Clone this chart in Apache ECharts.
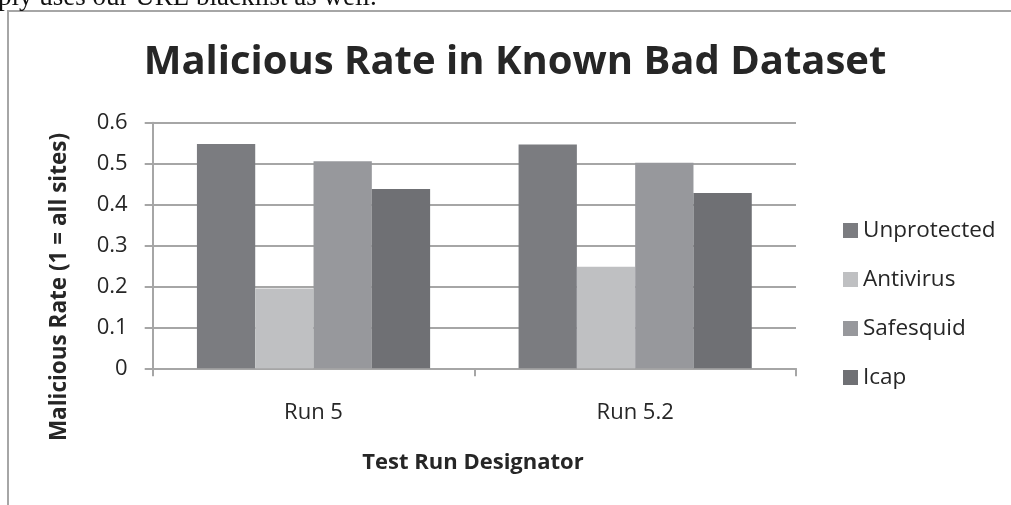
<!DOCTYPE html>
<html>
<head>
<meta charset="utf-8">
<script src="https://cdn.jsdelivr.net/npm/echarts@6/dist/echarts.min.js"></script>
<style>
html,body{margin:0;padding:0;background:#fff;}
#c{width:1011px;height:505px;}
</style>
</head>
<body>
<div id="c"></div>
<script>
const categories = ['Run 5', 'Run 5.2'];
const unprotected = [0.548, 0.547];
const antivirus = [0.195, 0.248];
const safesquid = [0.506, 0.502];
const icap = [0.438, 0.428];
const yTicks = [0, 0.1, 0.2, 0.3, 0.4, 0.5, 0.6];

const FONT = '"Open Sans", "Noto Sans", sans-serif';
const chart = echarts.init(document.getElementById('c'), null, {renderer: 'canvas'});
const gridColor = '#a6a6a6';

const mk = (name, data, color) => ({
  name, type: 'bar', data, barGap: '0%', barCategoryGap: '27.5%',
  itemStyle: {color}, emphasis: {disabled: true}, animation: false
});

chart.setOption({
  animation: false,
  backgroundColor: '#fff',
  grid: {left: 152.7, right: 215, top: 122.7, bottom: 136.7, containLabel: false},
  xAxis: {
    type: 'category', data: categories,
    axisLine: {lineStyle: {color: gridColor, width: 2}},
    axisTick: {show: true, length: 8, lineStyle: {color: gridColor, width: 2}},
    axisLabel: {color: '#262626', fontFamily: FONT, fontSize: 22, margin: 33}
  },
  yAxis: {
    type: 'value', min: 0, max: 0.6, interval: 0.1,
    axisLine: {show: true, lineStyle: {color: gridColor, width: 2}},
    axisTick: {show: true, length: 8, lineStyle: {color: gridColor, width: 2}},
    splitLine: {lineStyle: {color: gridColor, width: 2}},
    axisLabel: {color: '#262626', fontFamily: FONT, fontSize: 22, margin: 25,
      formatter: v => { const t = yTicks.find(x => Math.abs(x - v) < 1e-9); return t === 0 ? '0' : String(+t.toFixed(1)); }}
  },
  legend: {
    orient: 'vertical', left: 838, top: 214,
    itemWidth: 15, itemHeight: 15, itemGap: 26,
    icon: 'rect',
    textStyle: {color: '#262626', fontFamily: FONT, fontSize: 22.5},
    data: ['Unprotected', 'Antivirus', 'Safesquid', 'Icap']
  },
  series: [
    mk('Unprotected', unprotected, '#7b7c80'),
    mk('Antivirus', antivirus, '#bfc0c2'),
    mk('Safesquid', safesquid, '#97989c'),
    mk('Icap', icap, '#6f7074')
  ],
  graphic: [
    {type: 'rect', shape: {x: 8, y: 11, width: 1100, height: 600}, style: {fill: 'none', stroke: '#a6a6a6', lineWidth: 2}, z: -1},
    {type: 'text', x: -2, y: -2, style: {text: 'ply uses our URL blacklist as well.', fill: '#111', font: '27px "Liberation Serif", "DejaVu Serif", serif', textAlign: 'left', textVerticalAlign: 'middle'}},
    {type: 'text', x: 515, y: 63, style: {text: 'Malicious Rate in Known Bad Dataset', fill: '#262626', font: 'bold 40px ' + FONT, textAlign: 'center', textVerticalAlign: 'middle'}},
    {type: 'text', x: 473, y: 463, style: {text: 'Test Run Designator', fill: '#262626', font: 'bold 22px ' + FONT, textAlign: 'center', textVerticalAlign: 'middle'}},
    {type: 'text', x: 60, y: 287, rotation: Math.PI / 2, style: {text: 'Malicious Rate (1 = all sites)', fill: '#262626', font: 'bold 22.5px ' + FONT, textAlign: 'center', textVerticalAlign: 'middle'}}
  ]
});
</script>
</body>
</html>
